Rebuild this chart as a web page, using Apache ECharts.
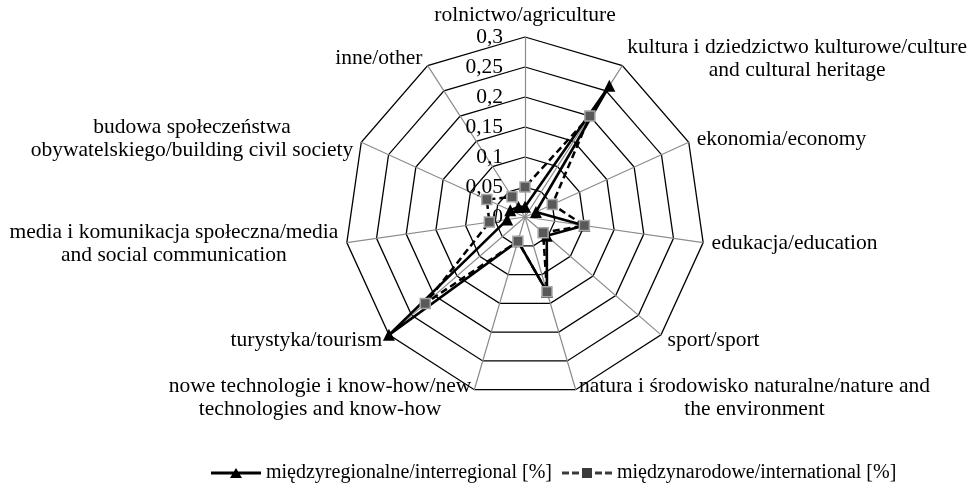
<!DOCTYPE html>
<html>
<head>
<meta charset="utf-8">
<script src="https://cdn.jsdelivr.net/npm/echarts@6/dist/echarts.min.js"></script>
<style>
html, body { margin: 0; padding: 0; background: #fff; }
#main { width: 972px; height: 492px; }
</style>
</head>
<body>
<div id="main"></div>
<script>
// kategorie (osie radaru), zgodnie z ruchem wskazowek zegara od gory
var categories = [
    'rolnictwo/agriculture',
    'kultura i dziedzictwo kulturowe/culture\nand cultural heritage',
    'ekonomia/economy',
    'edukacja/education',
    'sport/sport',
    'natura i środowisko naturalne/nature and\nthe environment',
    'nowe technologie i know-how/new\ntechnologies and know-how',
    'turystyka/tourism',
    'media i komunikacja społeczna/media\nand social communication',
    'budowa społeczeństwa\nobywatelskiego/building civil society',
    'inne/other'
];
var interregional = [0.017, 0.26, 0.02, 0.1, 0.048, 0.13, 0.042, 0.3, 0.03, 0.027, 0.02];
var international = [0.05, 0.2, 0.05, 0.1, 0.04, 0.13, 0.042, 0.22, 0.06, 0.07, 0.04];
var seriesNames = ['międzyregionalne/interregional [%]', 'międzynarodowe/international [%]'];
var axisMin = 0;
var axisMax = 0.3;
var axisSplit = 6;

var FONT = 'Liberation Serif';
var FS = 21.5;

// echarts rysuje osie radaru przeciwnie do zegara -> odwracamy kolejnosc (poza pierwsza)
var order = [0];
for (var k = categories.length - 1; k >= 1; k--) order.push(k);
function reorder(arr) {
    return order.map(function (i) { return arr[i]; });
}

// szerokosc tekstu, zeby wysrodkowac linie w etykietach
var ctx = document.createElement('canvas').getContext('2d');
ctx.font = FS + 'px "' + FONT + '"';

var indicator = reorder(categories).map(function (c, i) {
    var lines = c.split('\n');
    var w = 0;
    lines.forEach(function (l) {
        w = Math.max(w, ctx.measureText(l).width);
    });
    var ind = {
        name: c,
        min: axisMin,
        max: axisMax,
        nameGap: i === 0 ? 10 : 8,
        nameTextStyle: {
            rich: {
                c: {
                    width: Math.ceil(w) + 1,
                    align: 'center',
                    fontFamily: FONT,
                    fontSize: FS,
                    lineHeight: 23,
                    color: '#000'
                }
            }
        }
    };
    if (i === 0) {
        ind.axisLabel = {
            show: true,
            fontFamily: FONT,
            fontSize: FS,
            color: '#000',
            align: 'right',
            margin: 22,
            formatter: function (v) {
                return String(+v.toFixed(2)).replace('.', ',');
            }
        };
    }
    return ind;
});

var iconSolid = 'path://M0,4.6L50,4.6L50,7.4L0,7.4Z M19,11L25,1L31,11Z';
var iconDashed = 'path://M0,4.6h7v2.8h-7Z M10,4.6h7v2.8h-7Z M20,1h10v10h-10Z M33,4.6h7v2.8h-7Z M43,4.6h7v2.8h-7Z';

var myChart = echarts.init(document.getElementById('main'));

var option = {
    backgroundColor: '#fff',
    animation: false,
    legend: {
        left: 206,
        bottom: 4,
        itemWidth: 50,
        itemHeight: 12,
        itemGap: 10,
        textStyle: { fontFamily: FONT, fontSize: 20, color: '#000' },
        data: [
            { name: seriesNames[0], icon: iconSolid, itemStyle: { color: '#000', borderWidth: 0 } },
            { name: seriesNames[1], icon: iconDashed, itemStyle: { color: '#3a3a3a', borderWidth: 0 } }
        ]
    },
    radar: {
        center: [525, 217],
        radius: 180,
        startAngle: 90,
        splitNumber: axisSplit,
        shape: 'polygon',
        axisName: {
            color: '#000',
            fontFamily: FONT,
            fontSize: FS,
            formatter: function (name) {
                return name.split('\n').map(function (l) {
                    return '{c|' + l + '}';
                }).join('\n');
            }
        },
        splitLine: { lineStyle: { color: '#000', width: 1.3 } },
        splitArea: { show: false },
        axisLine: { lineStyle: { color: '#8c8c8c', width: 1.2 } },
        indicator: indicator
    },
    series: [{
        name: seriesNames[0],
        type: 'radar',
        symbol: 'triangle',
        symbolSize: 12,
        lineStyle: { color: '#000', width: 2.6, type: 'solid' },
        itemStyle: { color: '#000' },
        data: [{ name: seriesNames[0], value: reorder(interregional) }]
    }, {
        name: seriesNames[1],
        type: 'radar',
        symbol: 'rect',
        symbolSize: 10,
        lineStyle: { color: '#000', width: 2.5, type: [7, 4] },
        itemStyle: { color: '#595959', borderColor: '#a6a6a6', borderWidth: 1.5 },
        data: [{ name: seriesNames[1], value: reorder(international) }]
    }]
};

myChart.setOption(option);
</script>
</body>
</html>
